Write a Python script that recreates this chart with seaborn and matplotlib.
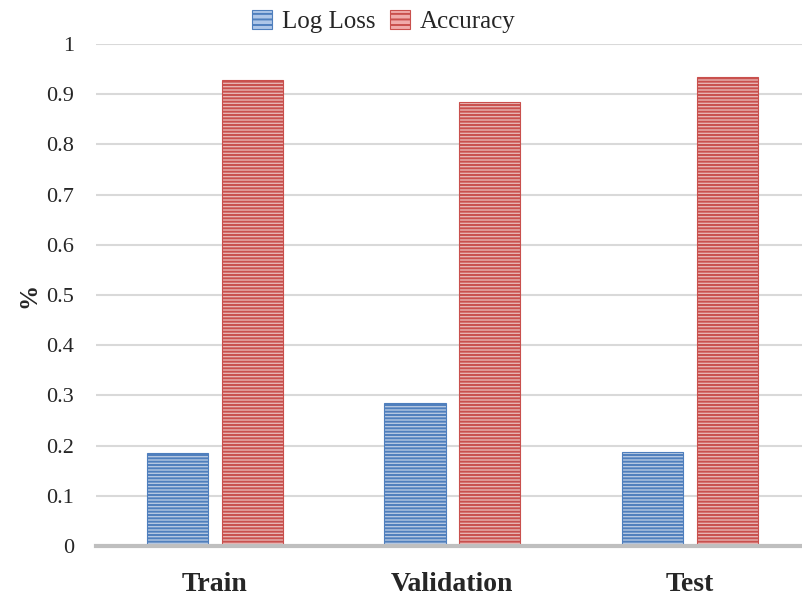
import matplotlib
matplotlib.use("Agg")
import matplotlib.pyplot as plt
import matplotlib.patches as mpatches
import seaborn as sns
import pandas as pd

categories = ["Train", "Validation", "Test"]
log_loss = [0.186, 0.285, 0.187]
accuracy = [0.928, 0.885, 0.935]
series_names = ["Log Loss", "Accuracy"]
y_ticks = [0, 0.1, 0.2, 0.3, 0.4, 0.5, 0.6, 0.7, 0.8, 0.9, 1]
y_tick_labels = ["0", "0.1", "0.2", "0.3", "0.4", "0.5", "0.6", "0.7", "0.8", "0.9", "1"]

df = pd.DataFrame({
    "Set": categories * 2,
    "Metric": [series_names[0]] * 3 + [series_names[1]] * 3,
    "Value": log_loss + accuracy,
})

sns.set_style("white")
plt.rcParams["font.family"] = ["Liberation Serif", "DejaVu Serif"]
plt.rcParams["hatch.linewidth"] = 1.4

fig = plt.figure(figsize=(8.03, 5.98), dpi=100)
ax = fig.add_axes([96 / 803, 1 - 546 / 598, 1 - 96 / 803, (546 - 44) / 598])

face = {"Log Loss": "#aec6e8", "Accuracy": "#f0abaa"}
edge = {"Log Loss": "#4f7fbd", "Accuracy": "#c9504d"}

sns.barplot(data=df, x="Set", y="Value", hue="Metric", order=categories,
            hue_order=series_names, palette=face, width=0.63, gap=0.18,
            ax=ax, legend=False, zorder=3)

for cont, name in zip(ax.containers, series_names):
    for p in cont:
        p.set_edgecolor(edge[name])
        p.set_linewidth(0.8)
        p.set_hatch("-----")

ax.set_ylim(0, 1)
ax.set_xlim(-0.5, 2.476)
ax.set_yticks(y_ticks)
ax.set_yticklabels(y_tick_labels, fontsize=16)
ax.yaxis.grid(True, color="#d9d9d9", linewidth=1.5, zorder=0)
ax.set_axisbelow(True)
ax.tick_params(axis="y", length=0, pad=16)
ax.tick_params(axis="x", length=0, pad=19)
for lab in ax.get_xticklabels():
    lab.set_fontsize(20)
    lab.set_fontweight("bold")
ax.set_xlabel("")
ax.set_ylabel("%", fontsize=18, fontweight="bold", labelpad=4)

for s in ["top", "right", "left"]:
    ax.spines[s].set_visible(False)
ax.spines["bottom"].set_color("#bfbfbf")
ax.spines["bottom"].set_linewidth(3)
ax.spines["bottom"].set_zorder(4)

leg_handles = [mpatches.Patch(facecolor=face[n], edgecolor=edge[n], hatch="---", linewidth=0.8)
               for n in series_names]
fig.legend(leg_handles, series_names, loc="center", bbox_to_anchor=(0.478, 0.964),
           ncol=2, frameon=False, fontsize=18, handlelength=0.8, handleheight=0.8,
           handletextpad=0.4, columnspacing=0.6)

fig.savefig("out.png", dpi=100)
